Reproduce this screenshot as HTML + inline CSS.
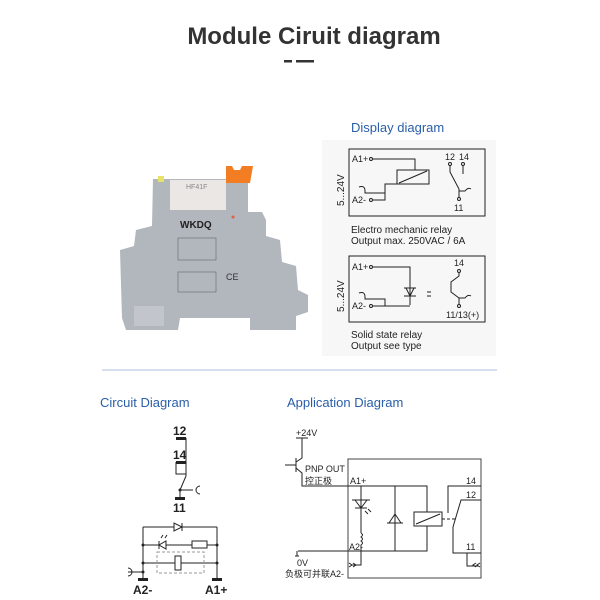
<!DOCTYPE html>
<html><head><meta charset="utf-8"><style>
body{margin:0;background:#fff;}
svg{display:block;font-family:"Liberation Sans","Noto Sans CJK SC",sans-serif;}
</style></head><body>
<svg width="600" height="600" viewBox="0 0 600 600" xmlns="http://www.w3.org/2000/svg">
<rect width="600" height="600" fill="#fff"/>
<text x="314" y="44" text-anchor="middle" font-size="24" font-weight="bold" fill="#333">Module Ciruit diagram</text>
<rect x="284" y="60" width="8" height="2.5" fill="#333"/>
<rect x="296" y="60" width="18" height="2.5" fill="#333"/>

<!-- product -->
<g>
<polygon points="153,179 248,179 248,212 262,212 266,220 266,236 280,240 282,262 296,266 298,290 308,295 308,312 296,316 296,330 250,330 250,318 180,318 178,330 126,330 122,318 120,250 134,246 136,230 152,226" fill="#b2b6bd"/>
<polygon points="226,166 232,166 234,170 240,170 242,166 253,166 250,183 226,183" fill="#f27d22"/>
<rect x="170" y="180" width="56" height="30" fill="#ebe7e4"/>
<text x="186" y="189" font-size="7" fill="#888">HF41F</text>
<rect x="158" y="176" width="6" height="6" fill="#e8e26a"/>
<circle cx="233" cy="217" r="1.5" fill="#e06040"/>
<text x="180" y="228" font-size="10" font-weight="bold" fill="#222">WKDQ</text>
<rect x="178" y="238" width="38" height="22" fill="none" stroke="#666" stroke-width="0.6"/>
<rect x="178" y="272" width="38" height="20" fill="none" stroke="#666" stroke-width="0.6"/>
<text x="226" y="280" font-size="9" fill="#333">CE</text>
<rect x="134" y="306" width="30" height="20" fill="#c2c5cb"/>
</g>

<!-- display diagram -->
<rect x="322" y="140" width="174" height="216" fill="#f7f7f7"/>
<text x="351" y="132" font-size="13" fill="#2a5ea8">Display diagram</text>
<g stroke="#222" stroke-width="1" fill="none">
<rect x="349" y="149" width="136" height="67"/>
<circle cx="371" cy="159" r="1.5"/><path d="M373,159 H415 V170"/>
<rect x="397" y="170" width="32" height="14"/><path d="M399,183 L427,171"/>
<circle cx="371" cy="200" r="1.5"/><path d="M373,200 H385 V184 H415"/>
<path d="M359,187 q6,-2 6,4 V193 H385"/>
<circle cx="450" cy="164" r="1.5"/><circle cx="463" cy="164" r="1.5"/><circle cx="459" cy="199" r="1.5"/>
<path d="M450,166 V172 L459,189 V197"/><path d="M463,166 V174"/><path d="M459,191 H465 q3,-4 6,-2"/>
<rect x="349" y="256" width="136" height="66"/>
<circle cx="371" cy="267" r="1.5"/><path d="M373,267 H410 V305"/>
<path d="M404,288 h12 M404,296 h12 M406,288 l4,8 l4,-8"/>
<circle cx="371" cy="306" r="1.5"/><path d="M373,306 H410"/>
<path d="M359,293 q6,-2 6,4 V299 H385 V306"/>
<path d="M427,292 h4 M427,296 h4"/>
<circle cx="459" cy="271" r="1.5"/><circle cx="459" cy="306" r="1.5"/>
<path d="M459,273 V276 L451,282 V292 L459,298 V304 M459,298 H465 q3,-4 6,-2"/>
</g>
<g font-size="9" fill="#222">
<text x="352" y="162">A1+</text><text x="352" y="203">A2-</text>
<text x="445" y="160">12</text><text x="459" y="160">14</text><text x="454" y="211">11</text>
<text x="351" y="233" font-size="10">Electro  mechanic  relay</text>
<text x="351" y="244" font-size="10">Output  max.  250VAC  / 6A</text>
<text x="352" y="270">A1+</text><text x="352" y="309">A2-</text>
<text x="454" y="266">14</text><text x="446" y="318">11/13(+)</text>
<text x="351" y="338" font-size="10">Solid  state  relay</text>
<text x="351" y="349" font-size="10">Output  see  type</text>
<text transform="translate(344,206) rotate(-90)" font-size="10">5...24V</text>
<text transform="translate(344,312) rotate(-90)" font-size="10">5...24V</text>
</g>

<line x1="102" y1="370" x2="497" y2="370" stroke="#a9c2dc" stroke-width="1"/>
<text x="100" y="407" font-size="13" fill="#2a5ea8">Circuit Diagram</text>
<text x="287" y="407" font-size="13" fill="#2a5ea8">Application Diagram</text>

<!-- circuit diagram -->
<g stroke="#222" stroke-width="1" fill="none">
<path d="M186,438 V476 M176,462 V474 H186"/>
<path d="M186,476 L180,490 V497 M180,490 H193"/>
<path d="M200,486 a4,4 0 0 0 0,8"/>
<path d="M143,527 H217 M143,545 H217 M143,563 H217 M143,527 V579 M217,527 V579"/>
<path d="M128,568 a4,4 0 0 1 0,8 M128,572 H143"/>
<rect x="192" y="541" width="15" height="7" fill="#fff"/>
<rect x="175" y="556" width="6" height="14" fill="#fff"/>
<rect x="157" y="552" width="47" height="21" stroke="#999" stroke-dasharray="3,2"/>
<path d="M174,523 V531 L182,527 Z M182,523 V531" fill="#fff"/>
<path d="M166,541 V549 L159,545 Z M159,541 V549 M161,538 l2,-3 M165,538 l2,-3" fill="#fff"/>
</g>
<g fill="#222">
<rect x="176" y="437" width="10" height="3"/><rect x="176" y="461" width="10" height="3"/><rect x="175" y="497" width="10" height="3"/>
<rect x="138" y="578" width="10" height="3"/><rect x="212" y="578" width="10" height="3"/>
<circle cx="180" cy="490" r="1.5"/><circle cx="143" cy="545" r="1.5"/><circle cx="217" cy="545" r="1.5"/><circle cx="143" cy="563" r="1.5"/><circle cx="217" cy="563" r="1.5"/><circle cx="143" cy="572" r="1.5"/>
</g>
<g font-size="12" font-weight="bold" fill="#222">
<text x="173" y="435">12</text><text x="173" y="459">14</text><text x="173" y="512">11</text>
<text x="133" y="594">A2-</text><text x="205" y="594">A1+</text>
</g>

<!-- application diagram -->
<g stroke="#222" stroke-width="1" fill="none">
<rect x="348" y="459" width="133" height="119" stroke="#444"/>
<path d="M296,438 H308 M302,438 V458 L296,462 M296,458 V472 M285,465 H296 M296,468 L302,473 V486 H427 V512"/>
<path d="M361,486 V533 M361,533 q3,2 0,4 q3,2 0,4 q3,2 0,4 V565 H351"/>
<path d="M352,500 h18 M355,500 l6,8 l6,-8 M355,508 h12 M365,511 l3,3 M368,509 l3,3"/>
<path d="M395,486 V551 M387,523 h16 M389,523 l6,-9 l6,9"/>
<rect x="414" y="512" width="28" height="14" fill="#fff"/><path d="M416,524 L440,514"/>
<path d="M427,526 V551 H298 M297,551 V556 M295,556 h4"/>
<path d="M442,519 H455" stroke-dasharray="3,2"/>
<path d="M481,486 H448 V513 M481,500 H461 L453,527 V553 H481 M467,553 V566 H478"/>
<path d="M349,563 l3,2 l-3,2 M353,563 l3,2 l-3,2 M480,563 l-3,2 l3,2 M476,563 l-3,2 l3,2"/>
</g>
<g font-size="9" fill="#222">
<text x="296" y="436">+24V</text>
<text x="305" y="472">PNP OUT</text><text x="305" y="484">控正极</text>
<text x="350" y="484">A1+</text><text x="349" y="550">A2-</text>
<text x="466" y="484">14</text><text x="466" y="498">12</text><text x="466" y="550">11</text>
<text x="297" y="566">0V</text><text x="285" y="577">负极可并联A2-</text>
</g>
</svg>
</body></html>
